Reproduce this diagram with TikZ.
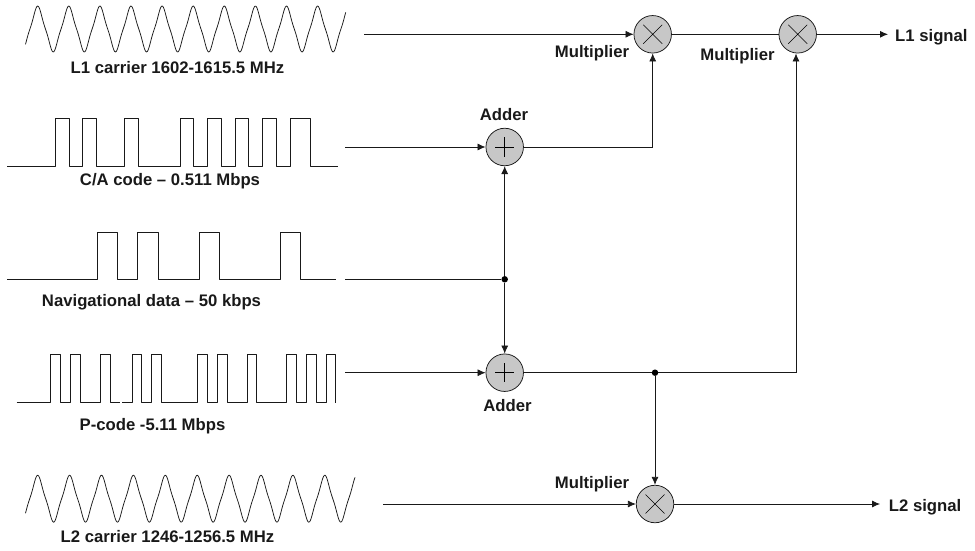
\documentclass[tikz,border=0pt]{standalone}
\usepackage{fontspec}
\setmainfont{Liberation Sans}
\usetikzlibrary{arrows.meta}
\tikzset{
 x=1pt,y=-1pt,
 declare function={tri(\u)=(cos(\u)+cos(3*\u)/10)/1.1;},
 wave/.style={line width=0.75pt,black!90,line join=round},
 conn/.style={line width=0.75pt,black!90},
 arr/.style={conn,-{Latex[length=8pt,width=7pt]}},
 op/.style={circle,draw=black!90,fill=black!22,line width=0.75pt,minimum size=37.5pt,inner sep=0pt},
 lab/.style={font=\bfseries\fontsize{16.7pt}{18pt}\selectfont,inner sep=0pt,text=black!90,anchor=base},
 dotj/.style={circle,fill=black,inner sep=0pt,minimum size=6.5pt},
}
\newcommand{\wavepath}[6]{% x0,x1,peakx,period,mid,amp
 \draw[wave,domain=#1:#2,samples=400,variable=\t]
  plot (\t,{#5-#6*tri(mod(\t-#3+#4,#4)*360/#4)});}
\begin{document}
\begin{tikzpicture}
\useasboundingbox (0,0) rectangle (975,551);
% waveforms
\wavepath{25.5}{345.7}{37.7}{31.1}{29}{23}
\wavepath{25.5}{355}{37.7}{31.9}{498.7}{23.5}
\draw[wave] (7,166)-|(55.3,118)-|(69.7,166)-|(82.7,118)-|(96.7,166)-|(124.3,118)-|(138.3,166)-|(180,118)-|(193.3,166)-|(207.3,118)-|(221,166)-|(235,118)-|(248.7,166)-|(262.7,118)-|(276,166)-|(290,118)-|(310.7,166)--(337.7,166);
\draw[wave] (7,279.3)-|(97,232.3)-|(117.7,279.3)-|(137.7,232.3)-|(158.7,279.3)-|(199,232.3)-|(219.7,279.3)-|(280,232.3)-|(300.7,279.3)--(336,279.3);
\draw[wave] (16.7,402.7)-|(50.7,354.7)-|(60.7,402.7)-|(70.3,354.7)-|(80.3,402.7)--(100,402.7)--(100,354.7)-|(110,402.7)--(120,402.7);
\draw[wave] (122,402.7)-|(132,354.7)-|(141.7,402.7)-|(151.7,354.7)-|(161.7,402.7)-|(197.3,354.7)-|(207.3,402.7)-|(217.3,354.7)-|(227.3,402.7)-|(247,354.7)-|(256.7,402.7)-|(286.7,354.7)-|(296.7,402.7)-|(306.3,354.7)-|(316,402.7)-|(326,354.7)-|(335.7,402.7);
% operators
\node[op] (m1) at (652.7,34.3) {};
\node[op] (m2) at (797.7,34.3) {};
\node[op] (m3) at (655,504) {};
\node[op] (a1) at (504.7,147) {};
\node[op] (a2) at (504.7,372.7) {};
\foreach \n in {m1,m2,m3}{
 \draw[line width=0.55pt] ([shift={(-9.5,-9.5)}]\n.center)--([shift={(9.5,9.5)}]\n.center) ([shift={(9.5,-9.5)}]\n.center)--([shift={(-9.5,9.5)}]\n.center);}
\foreach \n in {a1,a2}{
 \draw[line width=0.55pt] ([yshift=9.7pt]\n.center)--([yshift=-9.7pt]\n.center) ([xshift=-9.7pt]\n.center)--([xshift=9.7pt]\n.center);}
% free ends
\coordinate (s1) at (364,34.3);
\coordinate (s2) at (345,147);
\coordinate (s3) at (345,279.3);
\coordinate (s4) at (345,372.7);
\coordinate (s5) at (383,504);
\coordinate (o1) at (888,34.3);
\coordinate (o2) at (880,504);
\node[dotj] (j1) at (504.7,279.3) {};
\node[dotj] (j2) at (655,372.7) {};
\coordinate (c2) at (796,372.7);
% connectors
\draw[arr] (s1)--(m1);
\draw[arr] (s2)--(a1);
\draw[arr] (s4)--(a2);
\draw[arr] (s5)--(m3);
\draw[conn] (s3)--(j1);
\draw[arr] (j1)--(a1);
\draw[arr] (j1)--(a2);
\draw[arr] (a1.east)-|(m1.south);
\draw[conn] (m1)--(m2);
\draw[arr] (m2)--(o1);
\draw[conn] (a2)--(j2);
\draw[arr] (j2)--(c2)--(c2|-m2.south);
\draw[arr] (j2)--(m3);
\draw[arr] (m3)--(o2);
% labels
\node[lab] at (177.5,73.5) {L1 carrier 1602-1615.5 MHz};
\node[lab] at (170,185) {C/A code – 0.511 Mbps};
\node[lab] at (151.5,306) {Navigational data – 50 kbps};
\node[lab] at (152.5,430) {P-code -5.11 Mbps};
\node[lab] at (167.5,542.7) {L2 carrier 1246-1256.5 MHz};
\node[lab] at (504,120) {Adder};
\node[lab] at (507.5,411) {Adder};
\node[lab] at (592,57.3) {Multiplier};
\node[lab] at (737.5,61) {Multiplier};
\node[lab] at (592,488.3) {Multiplier};
\node[lab,anchor=base west] at (895,41.7) {L1 signal};
\node[lab,anchor=base west] at (888.7,511.3) {L2 signal};
\end{tikzpicture}
\end{document}
